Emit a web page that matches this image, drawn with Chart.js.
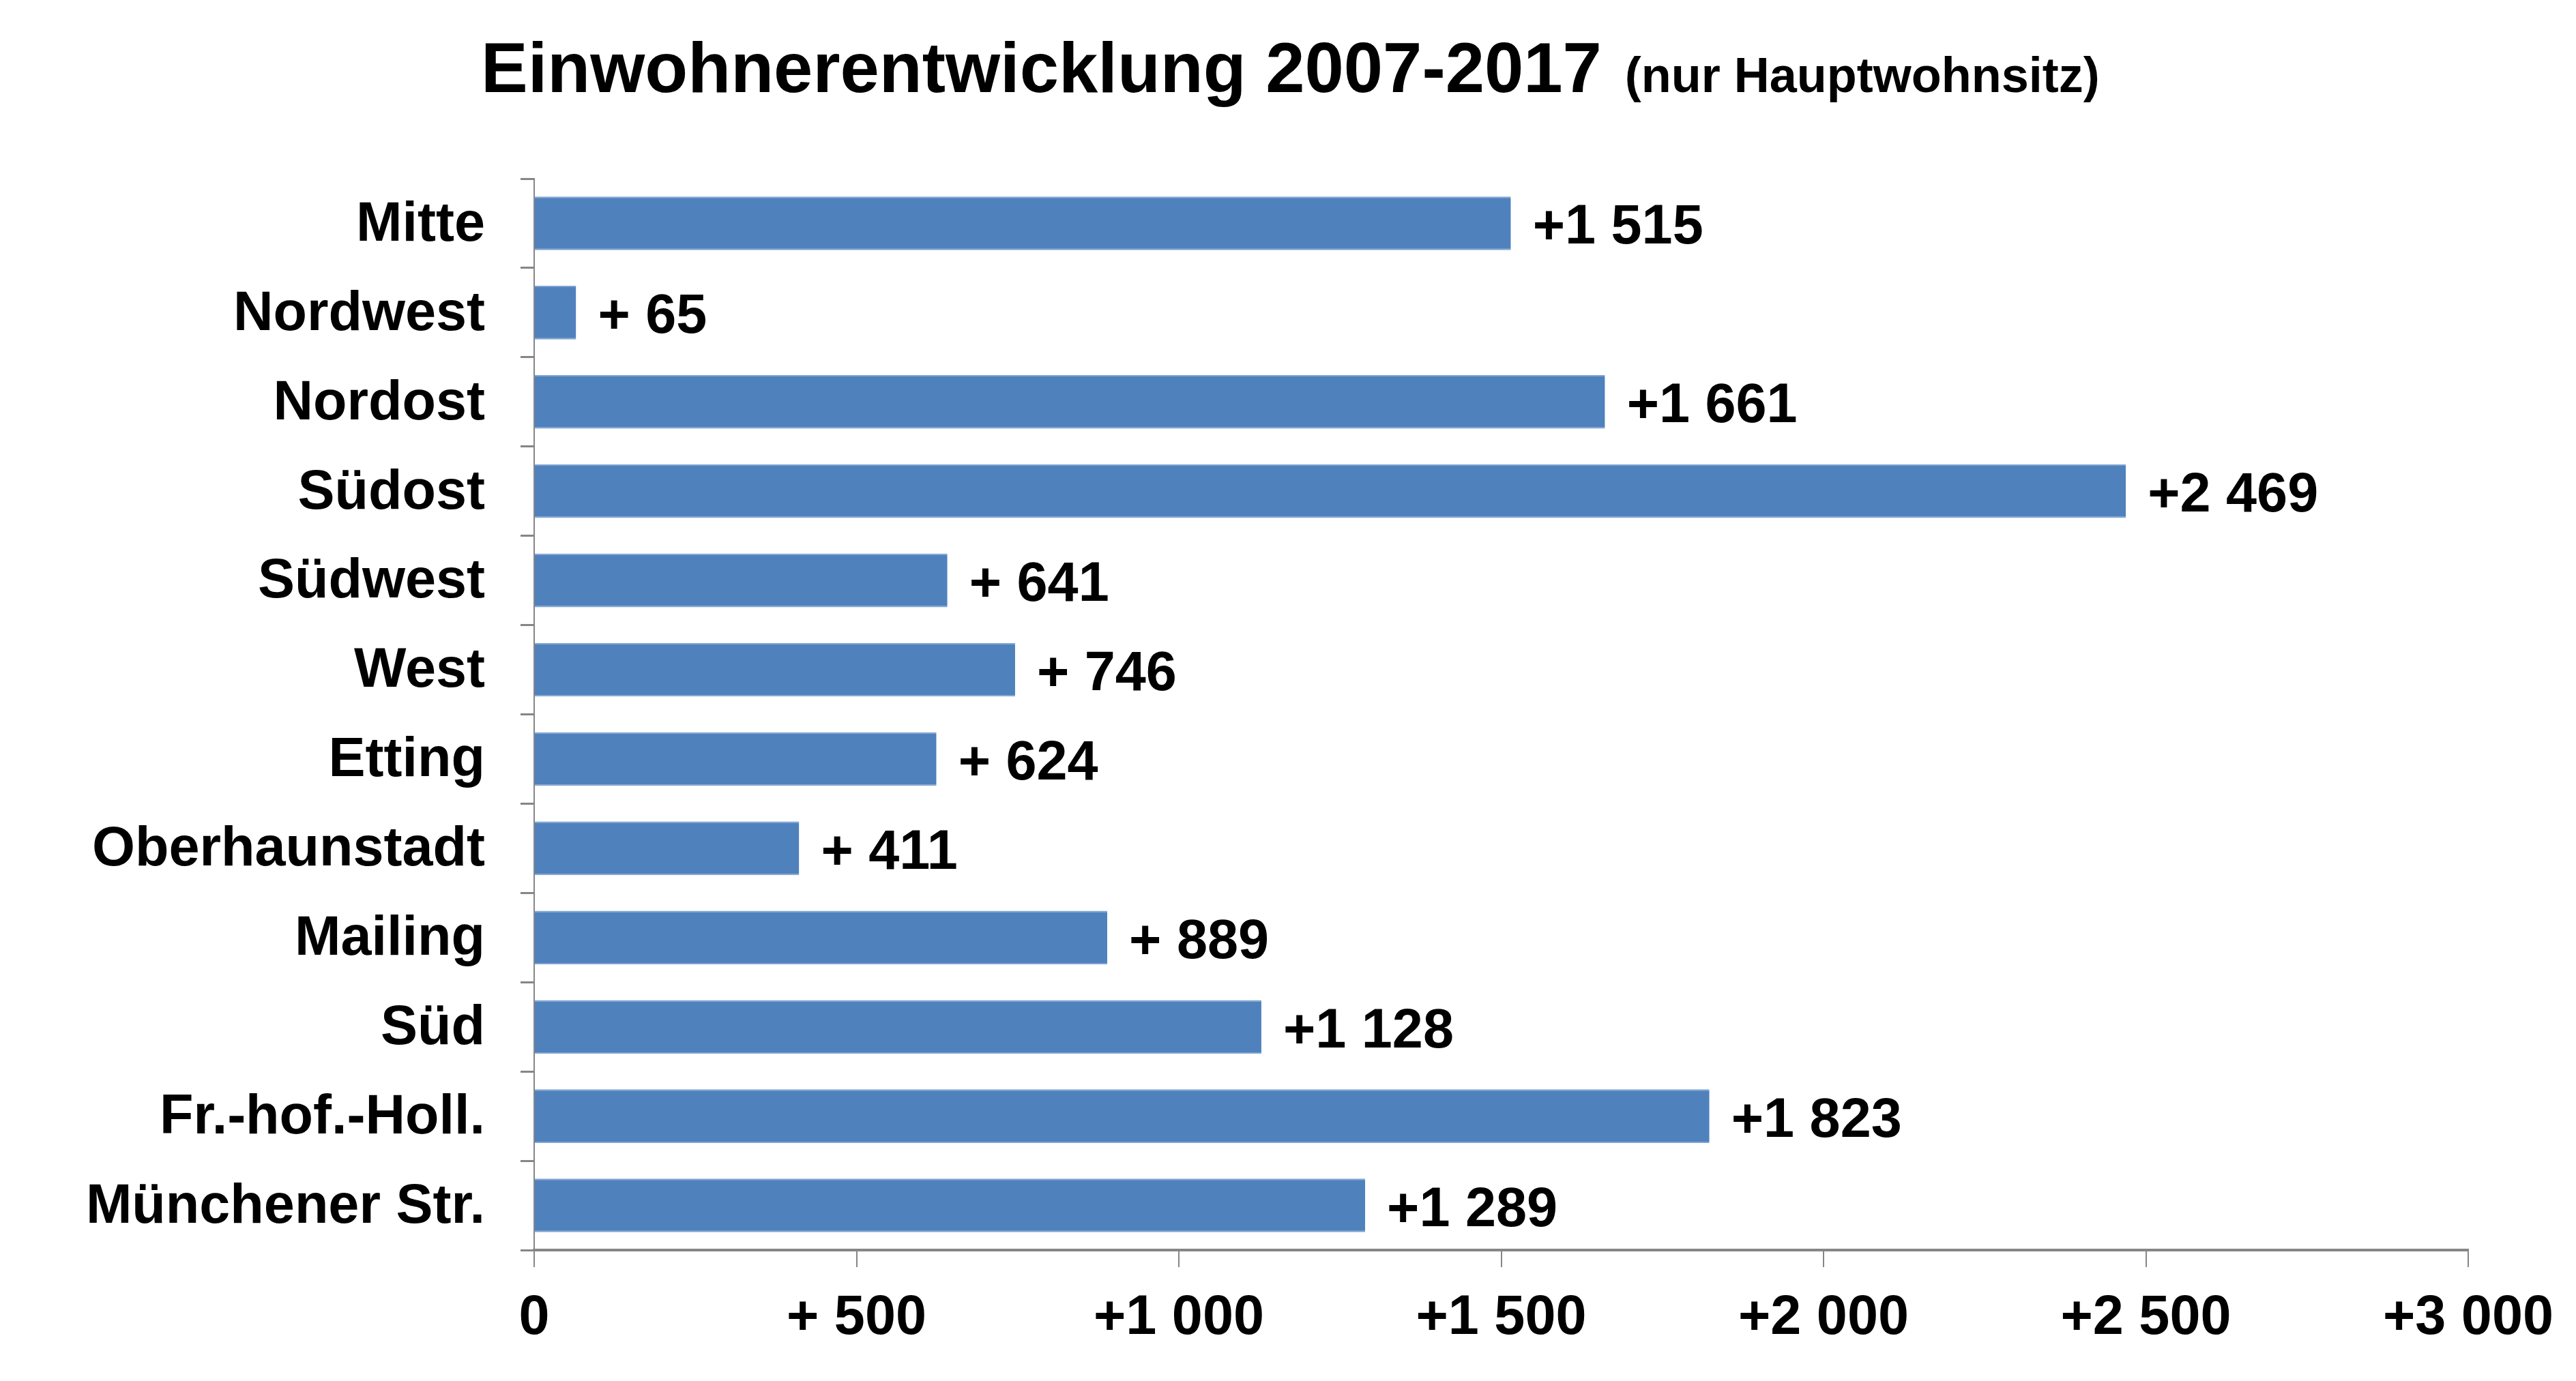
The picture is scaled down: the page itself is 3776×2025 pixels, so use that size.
<!DOCTYPE html>
<html>
<head>
<meta charset="utf-8">
<script src="https://cdn.jsdelivr.net/npm/chart.js@4.4.1/dist/chart.umd.min.js"></script>
<style>
html,body{margin:0;padding:0;background:#fff;}
#wrap{width:3776px;height:2025px;}
</style>
</head>
<body>
<div id="wrap"><canvas id="c" width="3776" height="2025"></canvas></div>
<script>
const categories = ["Mitte","Nordwest","Nordost","Südost","Südwest","West","Etting","Oberhaunstadt","Mailing","Süd","Fr.-hof.-Holl.","Münchener Str."];
const values = [1515,65,1661,2469,641,746,624,411,889,1128,1823,1289];
const titleMain = "Einwohnerentwicklung 2007-2017";
const titleSub = "(nur Hauptwohnsitz)";
const xMin = 0, xMax = 3000, xStep = 500;

const FONT = '"Liberation Sans", Arial, sans-serif';

function fmt(v){
  if (v === 0) return "0";
  if (v >= 1000){
    const r = String(v % 1000).padStart(3,"0");
    return "+" + Math.floor(v/1000) + " " + r;
  }
  return "+ " + v;
}

const titlePlugin = {
  id:'titlePlugin',
  afterDraw(chart){
    const ctx = chart.ctx;
    ctx.save();
    ctx.fillStyle = '#000';
    ctx.textBaseline = 'alphabetic';
    ctx.textAlign = 'left';
    ctx.font = 'bold 103px ' + FONT;
    let x = 705;
    ctx.fillText(titleMain, x, 135);
    x += ctx.measureText(titleMain).width + 34;
    ctx.font = 'bold 72px ' + FONT;
    ctx.fillText(titleSub, x, 135);
    ctx.restore();
  }
};

const labelPlugin = {
  id:'labelPlugin',
  afterDatasetsDraw(chart){
    const ctx = chart.ctx;
    const meta = chart.getDatasetMeta(0);
    ctx.save();
    ctx.fillStyle = '#000';
    ctx.font = 'bold 81px ' + FONT;
    ctx.textAlign = 'left';
    ctx.textBaseline = 'alphabetic';
    meta.data.forEach((bar, i) => {
      ctx.fillText(fmt(values[i]), bar.x + 32, bar.y + 30);
    });
    ctx.restore();
  }
};

Chart.defaults.font.family = FONT;

new Chart(document.getElementById('c'), {
  type:'bar',
  data:{
    labels: categories,
    datasets:[{
      data: values,
      backgroundColor:'#4F81BD',
      borderColor:'#7FA3D1',
      borderWidth:{top:2,bottom:2,left:0,right:0},
      borderSkipped:false,
      barPercentage:0.6,
      categoryPercentage:1.0
    }]
  },
  options:{
    indexAxis:'y',
    responsive:false,
    animation:false,
    devicePixelRatio:1,
    layout:{padding:{left:0,top:262,right:158,bottom:0}},
    plugins:{legend:{display:false},tooltip:{enabled:false},title:{display:false}},
    scales:{
      x:{
        type:'linear',
        min:xMin,max:xMax,
        afterFit(s){ s.height = 2025 - 1833; },
        ticks:{stepSize:xStep,color:'#000',font:{size:81,weight:'bold'},padding:27,maxRotation:0,autoSkip:false,callback:(v)=>fmt(v)},
        grid:{drawOnChartArea:false,drawTicks:true,tickLength:25,color:'#868686',lineWidth:2},
        border:{display:true,color:'#868686',width:4}
      },
      y:{
        afterFit(s){ s.width = 783; },
        ticks:{color:'#000',font:{size:81,weight:'bold'},padding:52,autoSkip:false,labelOffset:3},
        grid:{drawOnChartArea:false,drawTicks:true,tickLength:20,color:'#868686',lineWidth:3,offset:true},
        border:{display:true,color:'#868686',width:2}
      }
    }
  },
  plugins:[titlePlugin,labelPlugin]
});
</script>
</body>
</html>
